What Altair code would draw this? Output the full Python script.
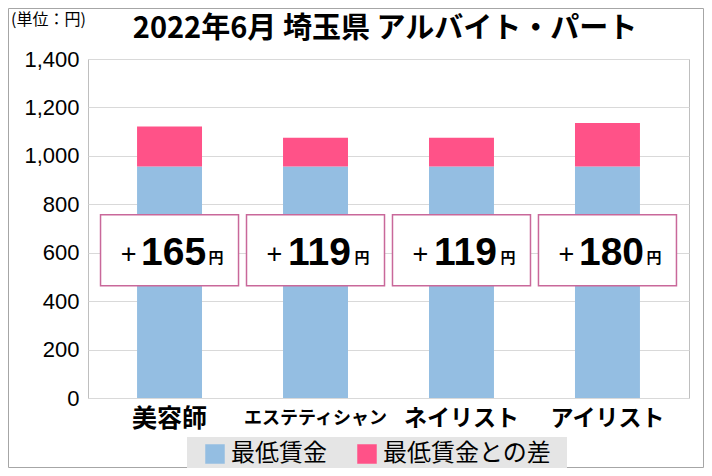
import altair as alt
import pandas as pd

categories = ["美容師", "エステティシャン", "ネイリスト", "アイリスト"]
min_wage = [956, 956, 956, 956]
diff = [165, 119, 119, 180]
series = ["最低賃金", "最低賃金との差"]
y_ticks = [0, 200, 400, 600, 800, 1000, 1200, 1400]
label_level = 610
title_text = "2022年6月 埼玉県 アルバイト・パート"

BLUE = "#94BEE2"
PINK = "#FF5288"
JP = "Noto Sans CJK JP"
LAT = "Liberation Sans"

rows = []
for job, w, d in zip(categories, min_wage, diff):
    rows.append({"job": job, "series": series[0], "yen": w, "order": 0})
    rows.append({"job": job, "series": series[1], "yen": d, "order": 1})
bars_df = pd.DataFrame(rows)
labels_df = pd.DataFrame({"job": categories, "diff": diff})
dummy = pd.DataFrame({"a": [0]})

# long katakana label needs a smaller size to fit the band
x_label_size = {
    "condition": [
        {"test": "datum.value == 'エステティシャン'", "value": 18},
        {"test": "datum.value == '美容師'", "value": 25},
    ],
    "value": 23,
}

x_enc = alt.X("job:N", sort=categories,
              scale=alt.Scale(paddingInner=0.555, paddingOuter=0.336),
              axis=alt.Axis(title=None, labelAngle=0, domain=False, ticks=False,
                            labelFont=JP, labelFontWeight="bold",
                            labelFontSize=x_label_size, labelColor="black",
                            labelBaseline="middle", labelPadding=20, labelLimit=0))
x_plain = alt.X("job:N", sort=categories, title=None)

y_axis = alt.Axis(values=y_ticks, labelExpr="format(datum.value, ',')", title=None,
                  domain=False, ticks=False, gridColor="#d9d9d9", labelFont=LAT,
                  labelFontSize=22, labelColor="black", labelPadding=9)
y_label = alt.YDatum(label_level, title=None, axis=y_axis)

frame = alt.Chart(dummy).mark_rect(fillOpacity=0, stroke="#a6a6a6", strokeWidth=1).encode(
    x=alt.value(-79.5), x2=alt.value(615.5), y=alt.value(-50.5), y2=alt.value(408.5)
)

legend_bg = alt.Chart(dummy).mark_rect(color="#e5e5e5").encode(
    x=alt.value(99), x2=alt.value(479), y=alt.value(378), y2=alt.value(411)
)

bars = alt.Chart(bars_df).mark_bar().encode(
    x=x_enc,
    y=alt.Y("yen:Q", stack="zero", scale=alt.Scale(domain=[0, 1400], nice=False),
            axis=y_axis),
    color=alt.Color("series:N", scale=alt.Scale(domain=series, range=[BLUE, PINK]),
                    legend=alt.Legend(title=None, orient="none", legendX=115, legendY=383,
                                      direction="horizontal", padding=0,
                                      symbolType="square", symbolSize=380,
                                      symbolStrokeWidth=0, symbolOpacity=1,
                                      labelFont=JP, labelFontSize=24, labelColor="black",
                                      labelOffset=4, columnPadding=28, labelLimit=400)),
    order=alt.Order("order:Q"),
)

boxes = alt.Chart(labels_df).mark_rect(
    width=138, height=71, fill="white", stroke="#C9689A", strokeWidth=1.5
).encode(x=x_plain, y=y_label)

plus = alt.Chart(labels_df).mark_text(
    text="+", font=LAT, fontSize=27, color="black",
    baseline="alphabetic", dx=-41, dy=13
).encode(x=x_plain, y=y_label)

num = alt.Chart(labels_df).mark_text(
    font=LAT, fontWeight="bold", fontSize=39, color="black",
    baseline="alphabetic", dx=4, dy=15
).encode(x=x_plain, y=y_label, text="diff:Q")

yen = alt.Chart(labels_df).mark_text(
    text="円", font=JP, fontWeight="bold", fontSize=15, color="black",
    align="left", baseline="alphabetic", dx=39, dy=13
).encode(x=x_plain, y=y_label)

unit = alt.Chart(dummy).mark_text(
    text="(単位：円)", font=JP, fontSize=16, color="black", align="left", baseline="middle"
).encode(x=alt.value(-77), y=alt.value(-39))

title = alt.Chart(dummy).mark_text(
    text=title_text, font=JP, fontSize=29, fontWeight="bold", color="black",
    align="center", baseline="alphabetic"
).encode(x=alt.value(297), y=alt.value(-21))

chart = alt.layer(frame, legend_bg, bars, boxes, plus, num, yen, unit, title).properties(
    width=601,
    height=339,
    autosize=alt.AutoSizeParams(type="none"),
    padding={"left": 80, "top": 51, "right": 15, "bottom": 70},
).configure_view(stroke="#bfbfbf", strokeWidth=1)

chart.save("out.html", embed_options={"renderer": "svg", "actions": False})
